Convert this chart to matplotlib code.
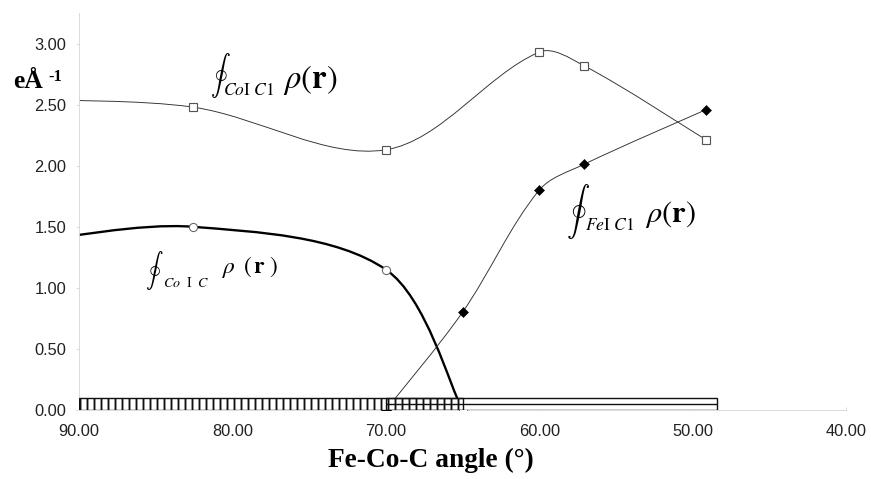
import numpy as np
import matplotlib
matplotlib.use("Agg")
import matplotlib.pyplot as plt
from matplotlib.path import Path
from matplotlib.patches import PathPatch

plt.rcParams['font.family'] = ['Liberation Sans', 'DejaVu Sans']
plt.rcParams['mathtext.fontset'] = 'stix'
plt.rcParams['hatch.linewidth'] = 1.6

# Co-C1 density (open squares); the first point sits past the left edge
coc1_angle = [93.0, 82.6, 70.0, 60.0, 57.1, 49.1]
coc1_rho = [2.54, 2.48, 2.13, 2.93, 2.82, 2.21]

# Co-C density (open circles, heavy line)
coc_angle = [93.0, 82.6, 70.0, 65.0]
coc_rho = [1.38, 1.50, 1.15, 0.00]

# Fe-C1 density (filled diamonds)
fec1_angle = [70.0, 65.0, 60.0, 57.1, 49.1]
fec1_rho = [0.00, 0.80, 1.80, 2.01, 2.46]

# angle ranges shown as hatched bands along the axis
band_start = [90.0, 70.0]
band_end = [65.0, 48.4]
band_height = 0.1

x_ticks = [90, 80, 70, 60, 50, 40]
y_ticks = [0.0, 0.5, 1.0, 1.5, 2.0, 2.5, 3.0]

DPI = 84


def smooth_path(ax, xs, ys):
    """Bezier path through the points; arms scaled by chord length on screen."""
    data = np.column_stack([xs, ys]).astype(float)
    pts = ax.transData.transform(data)
    n = len(pts)
    d = np.hypot(*np.diff(pts, axis=0).T)
    verts = [pts[0]]
    codes = [Path.MOVETO]
    for i in range(n - 1):
        p0 = pts[i - 1] if i > 0 else pts[i]
        p1 = pts[i]
        p2 = pts[i + 1]
        p3 = pts[i + 2] if i + 2 < n else pts[i + 1]
        d_prev = d[i - 1] if i > 0 else d[i]
        d_next = d[i + 1] if i + 2 < n else d[i]
        c1 = p1 + (p2 - p0) * d[i] / (d_prev + d[i]) / 3
        c2 = p2 - (p3 - p1) * d[i] / (d[i] + d_next) / 3
        verts += [c1, c2, p2]
        codes += [Path.CURVE4] * 3
    verts = ax.transData.inverted().transform(np.array(verts))
    return Path(verts, codes)


fig = plt.figure(figsize=(871 / DPI, 479 / DPI), dpi=DPI)
ax = fig.add_axes([79 / 871, 69 / 479, 767 / 871, 397 / 479])
ax.set_xlim(90, 40)
ax.set_ylim(0, 3.25)

# smoothed lines
ax.add_patch(PathPatch(smooth_path(ax, coc1_angle, coc1_rho), fill=False,
                       edgecolor='#333333', lw=0.8, zorder=2))
ax.add_patch(PathPatch(smooth_path(ax, coc_angle, coc_rho), fill=False,
                       edgecolor='black', lw=2.0, zorder=2))
ax.add_patch(PathPatch(smooth_path(ax, fec1_angle, fec1_rho), fill=False,
                       edgecolor='#333333', lw=0.8, zorder=2))

# markers
ax.plot(coc1_angle, coc1_rho, ls='none', marker='s', ms=7.5, mfc='white',
        mec='#555555', mew=1.0, zorder=3)
ax.plot(coc_angle, coc_rho, ls='none', marker='o', ms=7, mfc='white',
        mec='#666666', mew=0.9, zorder=3)
ax.plot(fec1_angle, fec1_rho, ls='none', marker='D', ms=6.5, mfc='black',
        mec='black', mew=0.5, zorder=3)

# bands: white fill first, then edges / hatching on top
widths = [e - s for s, e in zip(band_start, band_end)]
ax.barh([band_height / 2] * 2, widths, left=band_start, height=band_height,
        color='white', edgecolor='none', zorder=4)
ax.barh(band_height / 2, widths[0], left=band_start[0], height=band_height,
        facecolor='none', edgecolor='#111111', hatch='||', lw=1.2, zorder=5)
ax.barh(band_height / 2, widths[1], left=band_start[1], height=band_height,
        facecolor='none', edgecolor='#111111', lw=1.2, zorder=5)
ax.hlines(band_height / 2, band_start[1], band_end[1], color='#111111',
          lw=1.2, zorder=5)

ax.set_xticks(x_ticks)
ax.set_yticks(y_ticks)
ax.xaxis.set_major_formatter(matplotlib.ticker.FormatStrFormatter('%.2f'))
ax.yaxis.set_major_formatter(matplotlib.ticker.FormatStrFormatter('%.2f'))

for side in ['top', 'right']:
    ax.spines[side].set_visible(False)
for side in ['left', 'bottom']:
    ax.spines[side].set_color('#d9d9d9')
    ax.spines[side].set_linewidth(0.8)

ax.tick_params(axis='x', direction='in', length=3, color='#d9d9d9',
               labelsize=14, labelcolor='#222222', pad=12)
ax.tick_params(axis='y', direction='out', length=3, color='#d9d9d9',
               labelsize=14, labelcolor='#222222', pad=8)

ax.set_xlabel('Fe-Co-C angle (°)', family=['Liberation Serif'],
              fontweight='bold', fontsize=23.5)
ax.xaxis.set_label_coords(0.459, -0.095)

# y unit, written as eÅ with a raised -1
fig.text(13 / 871, (479 - 88) / 479, 'eÅ', family=['Liberation Serif'],
         fontweight='bold', fontsize=22, va='baseline')
fig.text(48 / 871, (479 - 81) / 479, '-1', family=['Liberation Serif'],
         fontweight='bold', fontsize=14, va='baseline')

# integral labels
ax.text(80.81, 2.74, r'$\oint$', fontsize=17, ha='center', va='center',
        math_fontfamily='cm')
ax.text(80.6, 2.576, r'$Co\mathrm{I}\ C\mathrm{1}$', fontsize=15,
        ha='left', va='baseline')
ax.text(76.70, 2.70, r'$\rho(\mathbf{r})$', fontsize=28, ha='left',
        va='center')

ax.text(85.11, 1.145, r'$\oint$', fontsize=15, ha='center', va='center',
        math_fontfamily='cm')
ax.text(84.5, 1.01, r'$Co\ \ \mathrm{I}\ \ C$', fontsize=12,
        ha='left', va='baseline')
ax.text(80.68, 1.17, r'$\rho\ \,(\,\mathbf{r}\ )$', fontsize=20,
        ha='left', va='center')

ax.text(57.47, 1.627, r'$\oint$', fontsize=20, ha='center', va='center',
        math_fontfamily='cm')
ax.text(57.0, 1.472, r'$Fe\mathrm{I}\ C\mathrm{1}$', fontsize=15,
        ha='left', va='baseline')
ax.text(53.1, 1.60, r'$\rho(\mathbf{r})$', fontsize=26, ha='left',
        va='center')

fig.savefig('out.png', dpi=DPI)
